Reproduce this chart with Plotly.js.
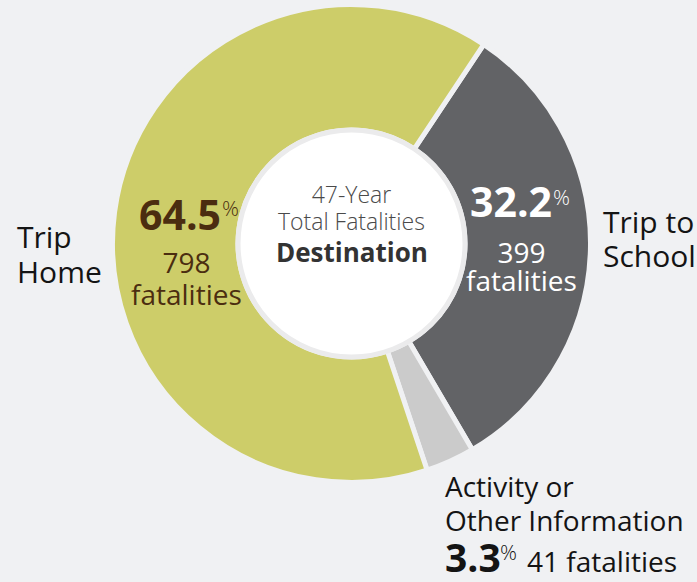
<!DOCTYPE html>
<html><head><meta charset="utf-8">
<script src="https://cdn.plot.ly/plotly-3.0.1.min.js"></script>
<style>html,body{margin:0;padding:0;background:#f0f1f3;} #chart{width:697px;height:582px;}</style>
</head><body><div id="chart"></div>
<script>
// ---- data ----
const categories = ['Trip to School', 'Activity or Other Information', 'Trip Home'];
const labelLines = [['Trip to', 'School'], ['Activity or', 'Other Information'], ['Trip', 'Home']];
const fatalities = [399, 41, 798];
const percents = ['32.2', '3.3', '64.5'];
const sliceColors = ['#626366', '#cbcbcb', '#cdcd69'];
const centerLines = ['47-Year', 'Total Fatalities', 'Destination'];
const unitLabel = 'fatalities';

// ---- layout helpers ----
const W = 697, H = 582, BG = '#f0f1f3';
const xp = x => x / W;
const yp = y => 1 - y / H;
const FONT = '"Open Sans", "Noto Sans", sans-serif';
// lines: array of strings; firstBase: baseline of first line (px); spacing: px between baselines; size: glyph size
function blockAnn(lines, x, firstBase, spacing, size, color, xanchor, weight) {
  const n = lines.length;
  const base = n > 1 ? spacing / 1.3 : size;
  const midBase = firstBase + (n - 1) * spacing / 2;
  const text = lines.map(l => '<span style="font-size:' + size + 'px">' + l + '</span>').join('<br>');
  return {
    text: text, x: xp(x), y: yp(midBase - 0.388 * size),
    xref: 'paper', yref: 'paper', xanchor: xanchor || 'center', yanchor: 'middle',
    align: xanchor === 'left' ? 'left' : 'center',
    showarrow: false, font: {family: FONT, size: base, color: color, weight: weight || 400}
  };
}

const cx = 351.5, cy = 243.5, R = 239;
const INK = '#141414', BROWN = '#4b2d10', WHITE = '#ffffff';

const annotations = [
  // Trip Home (left)
  blockAnn(labelLines[2], 15, 248, 35, 30, INK, 'left'),
  blockAnn(['<b>' + percents[2] + '</b>'], 223, 230, 0, 41, BROWN, 'right'),
  blockAnn(['%'], 220, 216, 0, 21, BROWN, 'left', 300),
  blockAnn([String(fatalities[2]), unitLabel], 186, 273, 32, 28, BROWN),
  // Trip to School (right)
  blockAnn(labelLines[0], 601, 233, 34, 30, INK, 'left'),
  blockAnn(['<b>' + percents[0] + '</b>'], 554, 217, 0, 41, WHITE, 'right'),
  blockAnn(['%'], 551, 205, 0, 21, WHITE, 'left', 300),
  blockAnn([String(fatalities[0]), unitLabel], 521, 263, 28, 28, WHITE),
  // Activity (bottom)
  blockAnn(labelLines[1], 443, 497, 34, 28, INK, 'left'),
  blockAnn(['<b>' + percents[1] + '</b>'], 443, 572, 0, 39, INK, 'left'),
  blockAnn(['%'], 498, 560, 0, 21, INK, 'left', 300),
  blockAnn([fatalities[1] + ' ' + unitLabel], 525, 572, 0, 28, INK, 'left'),
  // center
  blockAnn([centerLines[0], centerLines[1]], cx, 203, 27, 23, '#4a4a4a', 'center', 300),
  blockAnn(['<b>' + centerLines[2] + '</b>'], cx, 262, 0, 26, '#333333')
];

const trace = {
  type: 'pie', labels: categories, values: fatalities,
  marker: {colors: sliceColors, line: {color: BG, width: 5}},
  sort: false, direction: 'clockwise', rotation: 33.6, hole: 0.475,
  textinfo: 'none', hoverinfo: 'none', showlegend: false,
  domain: {x: [xp(cx - R), xp(cx + R)], y: [yp(cy + R), yp(cy - R)]}
};

const layout = {
  width: W, height: H, margin: {l: 0, r: 0, t: 0, b: 0},
  paper_bgcolor: BG, plot_bgcolor: BG, showlegend: false,
  shapes: [{
    type: 'circle', xref: 'paper', yref: 'paper', layer: 'above',
    x0: xp(cx - 113.5), x1: xp(cx + 113.5), y0: yp(cy + 113.5), y1: yp(cy - 113.5),
    fillcolor: '#ffffff', line: {color: '#ebebec', width: 5}
  }],
  annotations: annotations
};

Plotly.newPlot('chart', [trace], layout, {displayModeBar: false, staticPlot: true});
</script>
</body></html>
